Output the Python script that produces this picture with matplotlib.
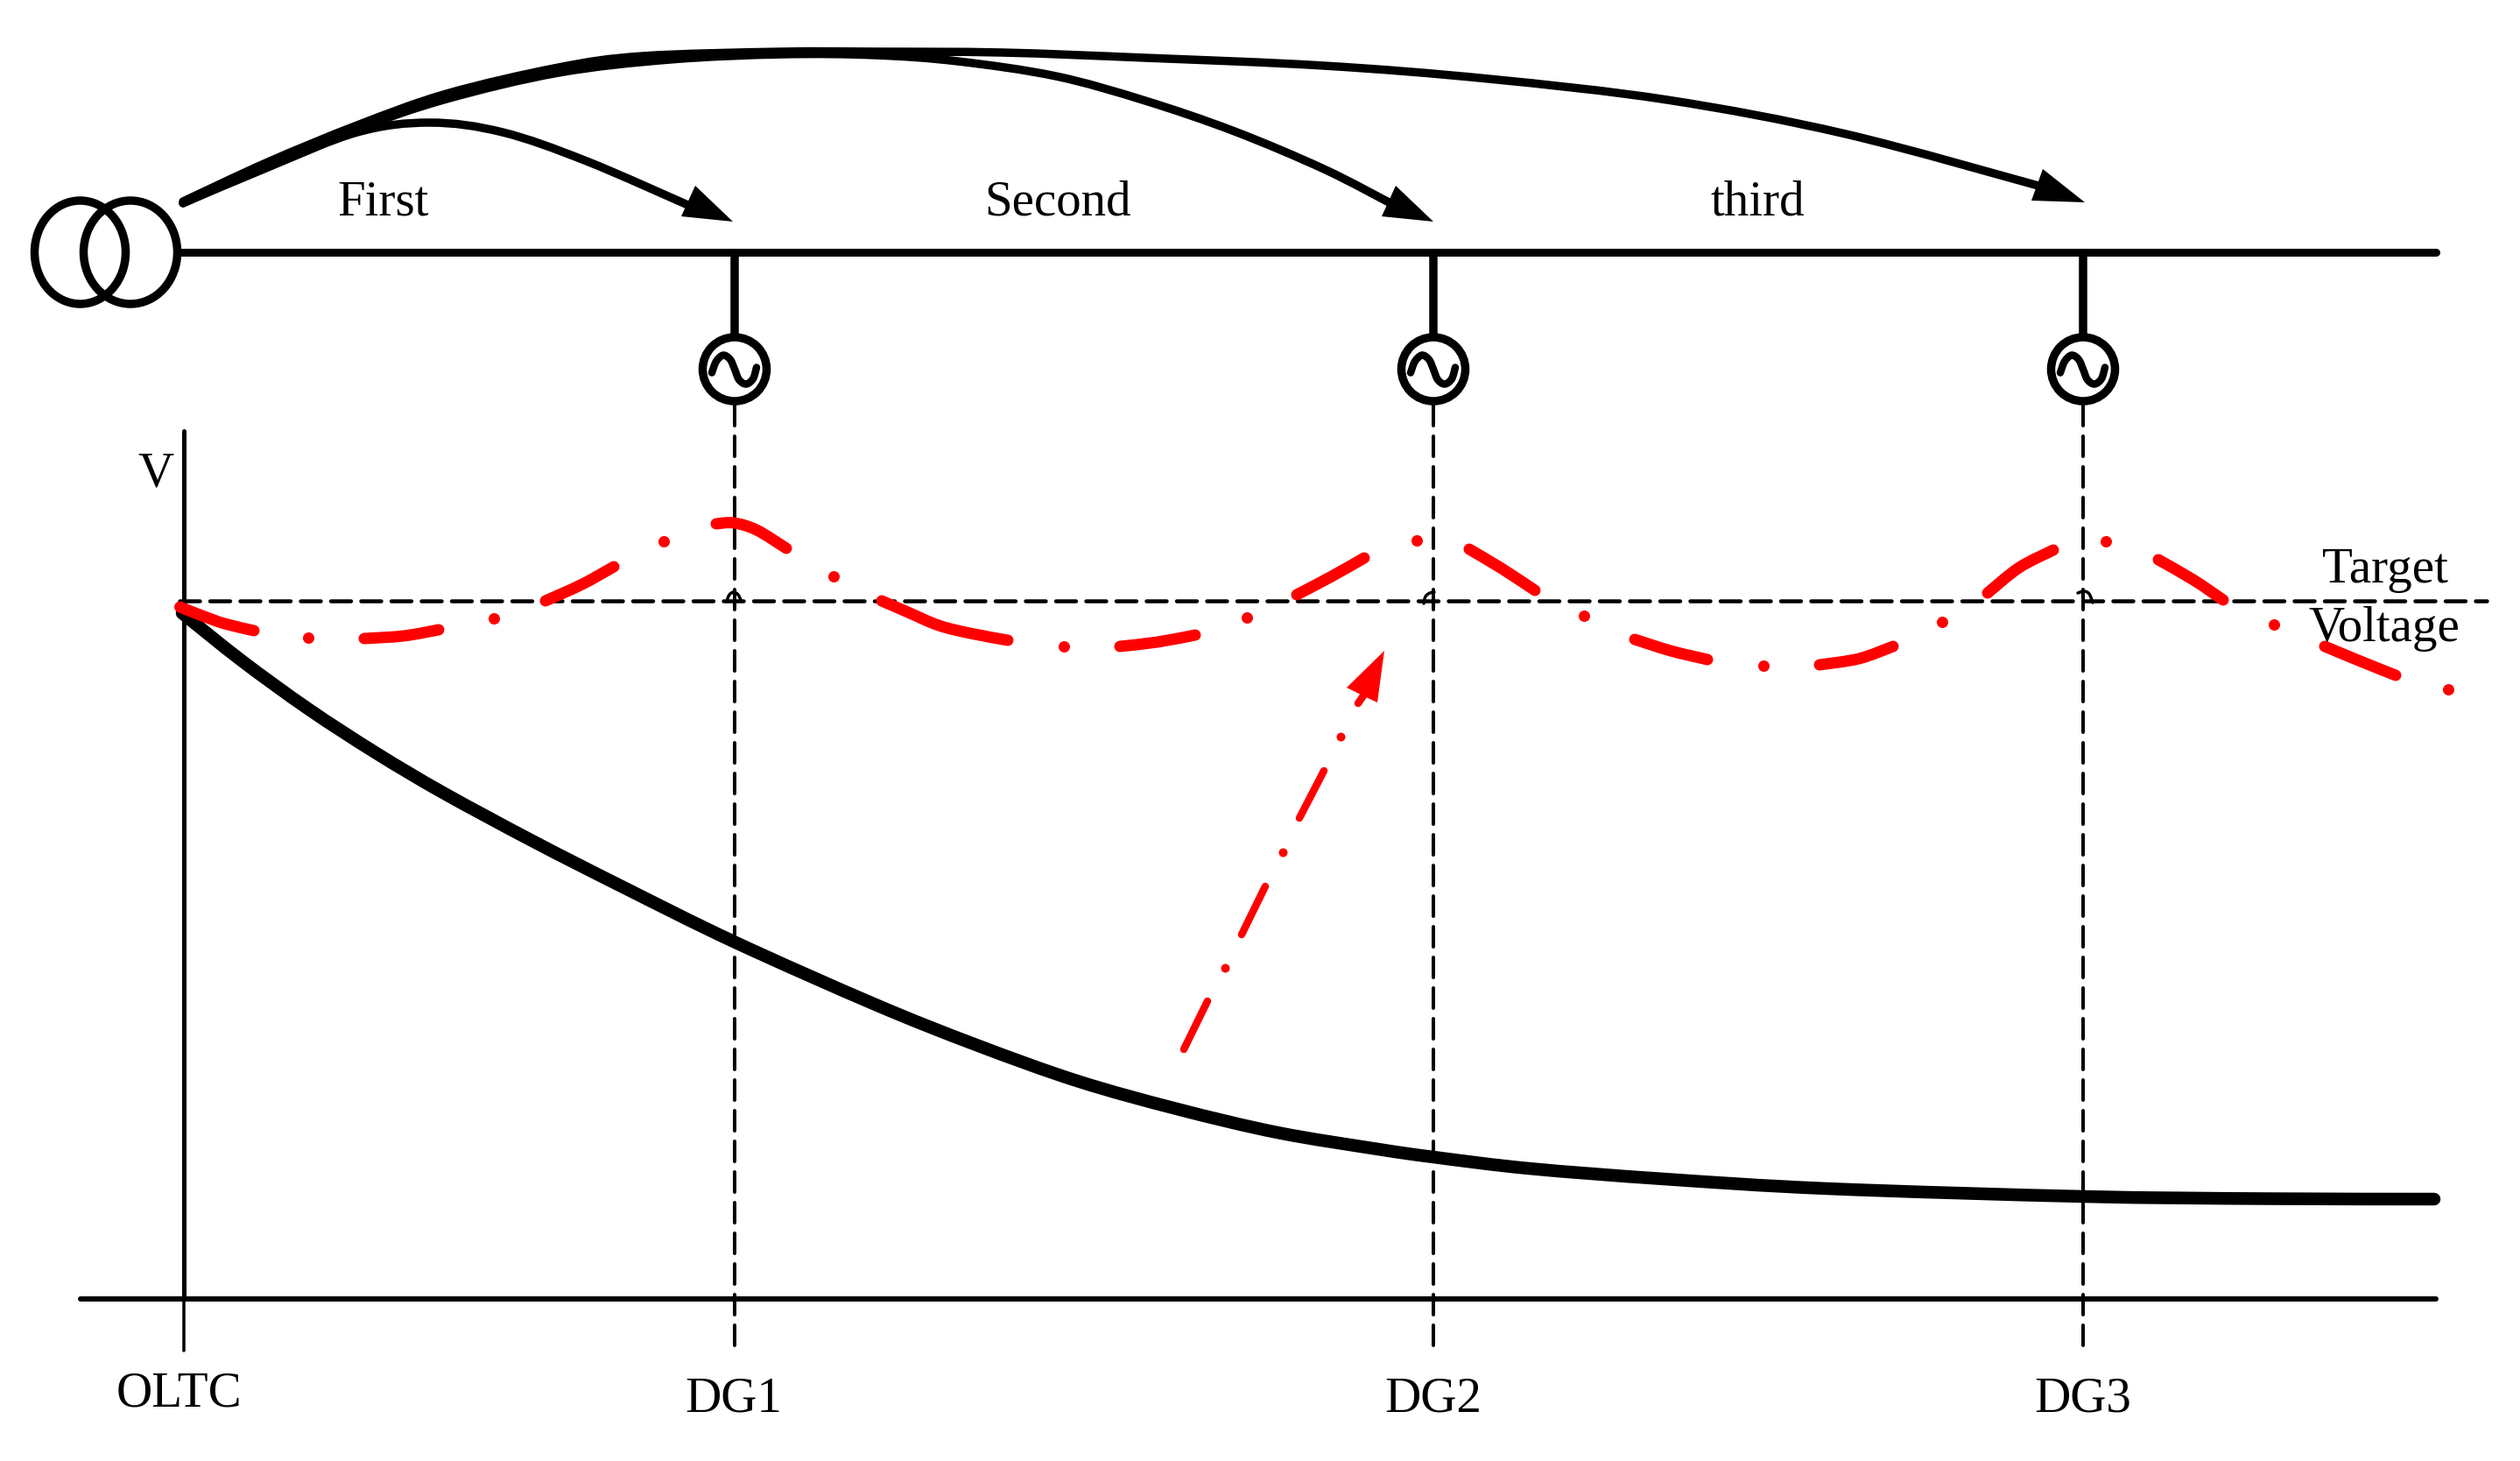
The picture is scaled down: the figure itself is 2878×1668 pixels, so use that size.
import matplotlib
matplotlib.use("Agg")
import matplotlib.pyplot as plt
import numpy as np
from matplotlib.path import Path
from matplotlib.patches import PathPatch, Ellipse

plt.rcParams['font.family'] = ['Liberation Serif', 'DejaVu Serif']
plt.rcParams['lines.scale_dashes'] = False

W, H = 2878, 1668
PX = 0.72  # points per pixel at dpi 100

# ---- values (pixel space of the diagram) ----
bus_x = [207, 2782]
bus_y = [288, 288]
dg_x = [839, 1637, 2379]
xf_left = (91.5, 288, 52, 59)
xf_right = (149, 288, 53.5, 59)
gen_y = 421.5
gen_r = 36.5
tilde_dx = [-26, -21, -13, -5, 0, 5, 13, 21, 25]
tilde_dy = [4, -9, -16, -11, 0, 12, 17, 11, -2]
target_y = 686
target_x = [205, 2840]
axis_v_x = [210, 210]
axis_v_y = [492, 1483]
axis_v_low_y = [1483, 1542]
axis_h_x = [92, 2782]
axis_h_y = [1483, 1483]

arrow1 = [(209, 232), (306, 191), (408, 151), (491, 140), (574, 151), (670, 184), (790, 236)]
arrow2 = [(209, 232), (306, 188), (408, 147), (510, 113), (638, 83), (765, 68), (893, 62), (1000, 63),
          (1094, 70), (1206, 87), (1308, 115), (1410, 150), (1512, 193), (1590, 233)]
arrow3 = [(209, 230), (306, 185), (408, 143), (510, 107), (638, 77), (734, 64), (893, 59), (1000, 59),
          (1145, 60), (1308, 66), (1512, 75), (1700, 90), (1904, 114), (2108, 153), (2335, 214)]
head1 = [(837, 253), (794, 212), (778, 247)]
head2 = [(1637, 253), (1594, 212), (1578, 247)]
head3 = [(2381, 231), (2333, 193), (2320, 229)]

voltage_before = [(208, 700), (277, 755), (353, 810), (430, 860), (506, 905), (608, 960), (710, 1012),
                  (838, 1075), (1000, 1147), (1115, 1193), (1230, 1234), (1344, 1266), (1459, 1293),
                  (1574, 1312), (1637, 1321), (1746, 1334), (1900, 1346), (2087, 1357), (2379, 1366),
                  (2586, 1368.5), (2780, 1369)]

red_dashes = [
    [(205.5, 693), (231, 703), (256.5, 712), (290, 720)],
    [(416, 729), (461, 726), (501, 719)],
    [(623, 686), (665, 667), (701, 647)],
    [(818, 598), (838, 597), (864, 605), (898, 626)],
    [(1007, 686), (1037, 699), (1072, 714), (1108, 723), (1151, 731)],
    [(1279, 738), (1322, 733), (1365, 725)],
    [(1481, 679), (1521, 658), (1558, 637)],
    [(1678, 627), (1715, 649), (1753, 674)],
    [(1867, 730), (1908, 743), (1950, 753)],
    [(2078, 759), (2123, 752), (2162, 738)],
    [(2270, 677), (2306, 648), (2345, 628)],
    [(2465, 639), (2505, 662), (2539, 685)],
    [(2655, 738), (2696, 755), (2736, 771)],
]
red_dots_x = [352, 564, 757.5, 952, 1215, 1424, 1618, 1809, 2014, 2218, 2405, 2597, 2796]
red_dots_y = [728, 706, 618, 658, 738, 705, 617, 703, 760, 710, 618, 713, 787]

up_dashes = [[(1352, 1198), (1379, 1143)], [(1418, 1067), (1445, 1012)],
             [(1484, 934), (1512, 880)], [(1551, 803), (1560, 790)]]
up_dots_x = [1399, 1465, 1531]
up_dots_y = [1105, 973, 841]
up_head = [(1581, 743), (1538, 785), (1558, 795), (1573, 802)]

crossing_marks = [[(830, 686), (833, 679), (838, 676), (843, 679), (846, 685)],
                  [(1626, 689), (1628, 681), (1633, 677), (1638, 676)],
                  [(2373, 677), (2380, 675), (2386, 678), (2390, 688)]]

labels = [("First", 438, 245), ("Second", 1208, 245), ("third", 2007, 245), ("V", 178, 555),
          ("Target", 2724, 665), ("Voltage", 2723, 732), ("OLTC", 204, 1606),
          ("DG1", 838, 1611), ("DG2", 1637, 1611), ("DG3", 2379, 1611)]


def smooth(pts):
    """Path through the read points, using Bezier segments."""
    p = np.asarray(pts, float)
    ext = np.vstack([p[0], p, p[-1]])
    verts, codes = [tuple(p[0])], [Path.MOVETO]
    for i in range(1, len(ext) - 2):
        c1 = ext[i] + (ext[i + 1] - ext[i - 1]) / 6
        c2 = ext[i + 1] - (ext[i + 2] - ext[i]) / 6
        verts += [tuple(c1), tuple(c2), tuple(ext[i + 1])]
        codes += [Path.CURVE4] * 3
    return Path(verts, codes)


def stroke(ax, pts, color, lw_px, cap='round', z=3):
    ax.add_patch(PathPatch(smooth(pts), fill=False, edgecolor=color, lw=lw_px * PX,
                           capstyle=cap, joinstyle='round', zorder=z))


fig = plt.figure(figsize=(W / 100, H / 100), dpi=100, facecolor='white')
ax = fig.add_axes([0, 0, 1, 1])
ax.set_xlim(0, W)
ax.set_ylim(H, 0)
ax.axis('off')

# network
ax.plot(bus_x, bus_y, color='k', lw=9 * PX, solid_capstyle='round', zorder=3)
for cx, cy, rx, ry in (xf_left, xf_right):
    ax.add_patch(Ellipse((cx, cy), 2 * rx, 2 * ry, fill=False, edgecolor='k', lw=9.5 * PX, zorder=3))

for x in dg_x:
    ax.plot([x, x], [bus_y[0], gen_y - gen_r], color='k', lw=9.5 * PX, solid_capstyle='butt', zorder=3)
    ax.add_patch(Ellipse((x, gen_y), 2 * gen_r, 2 * gen_r, fill=False, edgecolor='k', lw=9.5 * PX, zorder=3))
    stroke(ax, [(x + a, gen_y + b) for a, b in zip(tilde_dx, tilde_dy)], 'k', 8.5)
    ax.plot([x, x], [463, 1541], color='k', lw=4 * PX, dashes=(23 * PX, 12 * PX),
            dash_capstyle='round', zorder=2)

# curved arrows
for line, head in ((arrow1, head1), (arrow2, head2), (arrow3, head3)):
    stroke(ax, line, 'k', 9.5)
    ax.fill(*zip(*head), color='k', lw=0, zorder=4)

# plot axes
ax.plot(axis_v_x, axis_v_y, color='k', lw=5 * PX, solid_capstyle='round', zorder=2)
ax.plot(axis_v_x, axis_v_low_y, color='k', lw=3.5 * PX, solid_capstyle='round', zorder=2)
ax.plot(axis_h_x, axis_h_y, color='k', lw=6 * PX, solid_capstyle='round', zorder=2)

# target voltage line
ax.plot(target_x, [target_y, target_y], color='k', lw=4.5 * PX, dashes=(23 * PX, 11.5 * PX),
        dash_capstyle='round', zorder=2)
for m in crossing_marks:
    stroke(ax, m, 'k', 3.5)

# voltage curves
stroke(ax, voltage_before, 'k', 14.5, z=3)
for d in red_dashes:
    stroke(ax, d, '#ff0000', 13, z=5)
ax.plot(red_dots_x, red_dots_y, ls='', marker='o', ms=13 * PX, mfc='#ff0000', mec='#ff0000', mew=0, zorder=5)

# red up arrow
for d in up_dashes:
    stroke(ax, d, '#ff0000', 8.5, z=5)
ax.plot(up_dots_x, up_dots_y, ls='', marker='o', ms=10 * PX, mfc='#ff0000', mec='#ff0000', mew=0, zorder=5)
ax.fill(*zip(*up_head), color='#ff0000', lw=0, zorder=5)

# texts
for s, x, y in labels:
    ax.text(x, y, s, fontsize=57 * PX, ha='center', va='baseline', color='k', zorder=6)

fig.savefig('out.png', dpi=100, facecolor='white')
